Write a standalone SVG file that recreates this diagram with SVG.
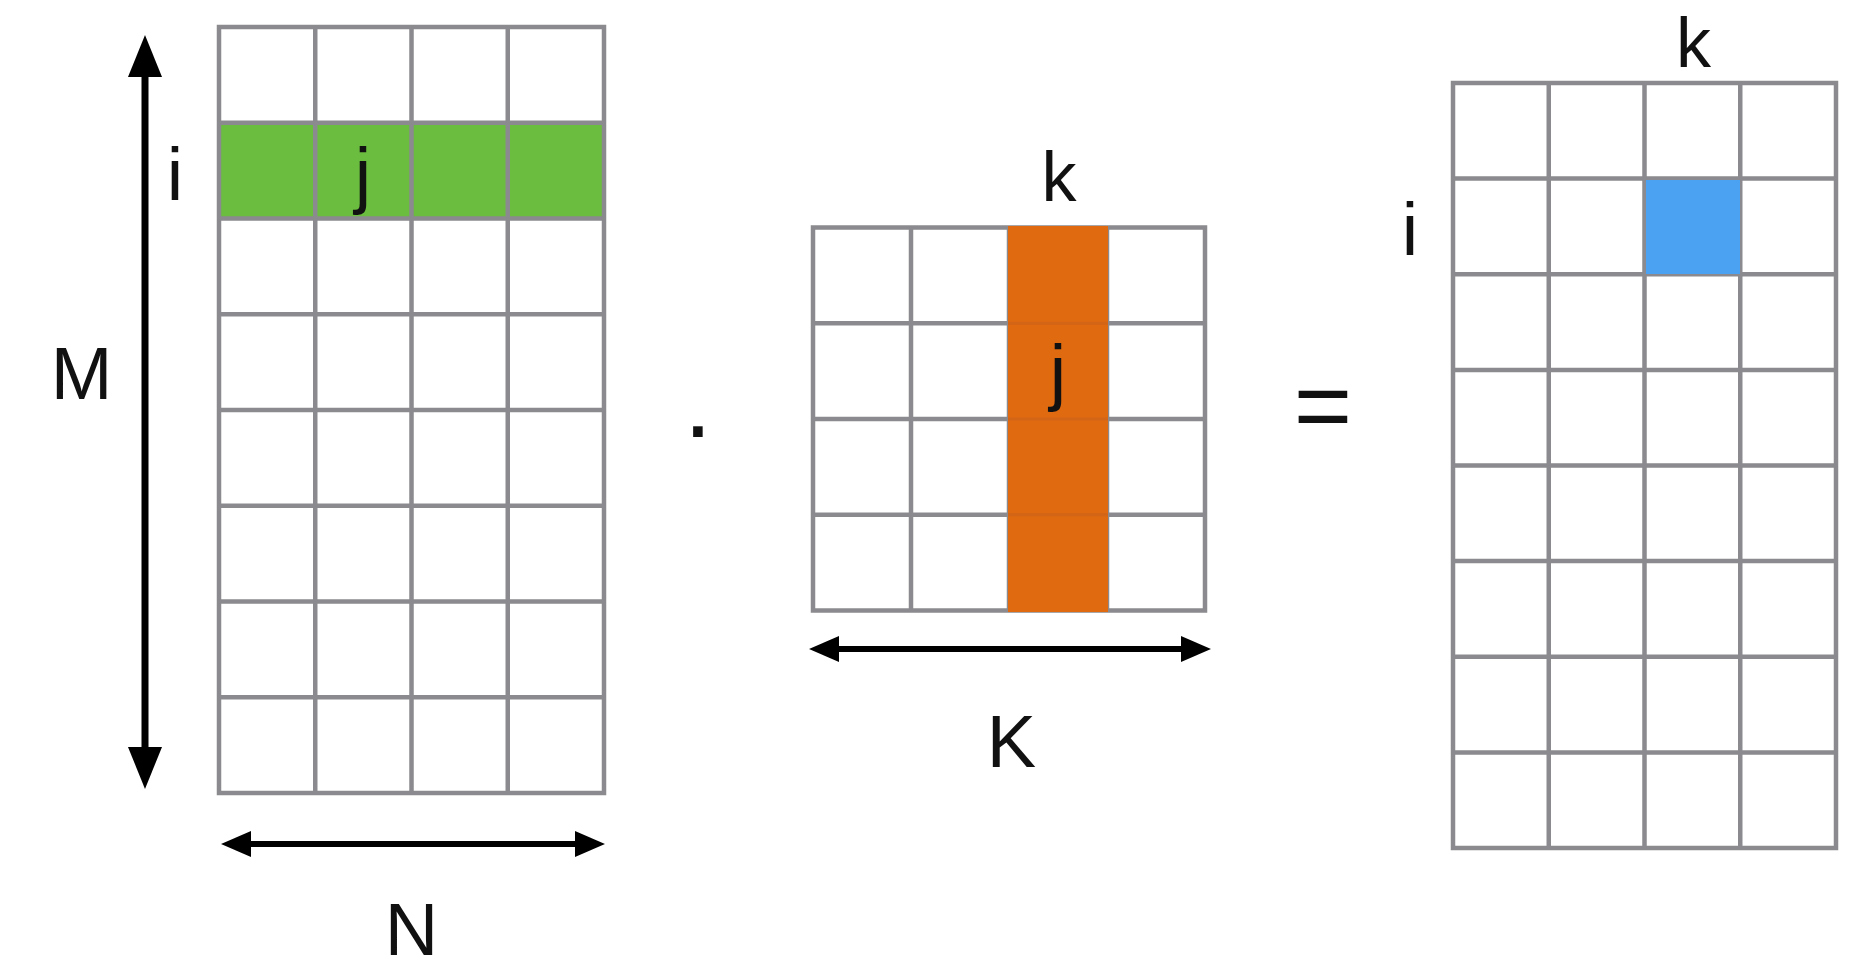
<svg xmlns="http://www.w3.org/2000/svg" width="1859" height="971" viewBox="0 0 1859 971">
<style>
.grid{fill:none;stroke:#8b8b8f;stroke-width:4.5}
.lbl{font-family:"Liberation Sans",Arial,sans-serif;fill:#111;text-anchor:middle}
.big{font-size:74px}
.arr{stroke:#000;fill:none}
</style>
<defs>
<marker id="headV" markerUnits="userSpaceOnUse" markerWidth="42" markerHeight="34" refX="0" refY="17" orient="auto-start-reverse">
<path d="M0,0 L42,17 L0,34 Z" fill="#000"/>
</marker>
<marker id="headH" markerUnits="userSpaceOnUse" markerWidth="30" markerHeight="26" refX="0" refY="13" orient="auto-start-reverse">
<path d="M0,0 L30,13 L0,26 Z" fill="#000"/>
</marker>
</defs>
<rect width="1859" height="971" fill="#fff"/>

<g id="matrixA">
<rect x="219" y="122.75" width="385" height="95.75" fill="#6bbd3f"/>
<rect class="grid" x="219" y="27" width="385" height="766"/>
<path class="grid" d="M315.25,27V793M411.5,27V793M507.75,27V793M219,122.75H604M219,218.5H604M219,314.25H604M219,410H604M219,505.75H604M219,601.5H604M219,697.25H604"/>
<text class="lbl big" x="175" y="200">i</text>
<text class="lbl big" x="363" y="200">j</text>
<text class="lbl big" x="81.5" y="399">M</text>
<text class="lbl big" x="411.5" y="955">N</text>
</g>

<g id="matrixB">
<rect class="grid" x="813" y="227.5" width="392" height="383"/>
<path class="grid" d="M911,227.5V610.5M1009,227.5V610.5M1107,227.5V610.5M813,323.25H1205M813,419H1205M813,514.75H1205"/>
<rect x="1008" y="226" width="100" height="386" fill="#e06a10"/>
<path d="M1008,323.25H1108M1008,419H1108M1008,514.75H1108" stroke="#c9621a" stroke-width="3" opacity="0.6"/>
<text class="lbl" font-size="70" x="1059" y="200.7">k</text>
<text class="lbl big" x="1058" y="397">j</text>
<text class="lbl big" x="1011.5" y="766.7">K</text>
</g>

<g id="matrixC">
<rect class="grid" x="1453" y="83" width="383" height="765"/>
<path class="grid" d="M1548.75,83V848M1644.5,83V848M1740.25,83V848M1453,178.6H1836M1453,274.25H1836M1453,369.9H1836M1453,465.5H1836M1453,561.1H1836M1453,656.75H1836M1453,752.4H1836"/>
<rect x="1646" y="180" width="94" height="94" fill="#4ba2f2"/>
<text class="lbl" font-size="70" x="1693.5" y="66.7">k</text>
<text class="lbl big" x="1410" y="255">i</text>
</g>

<g id="operators">
<text class="lbl" font-size="100" x="698" y="437">.</text>
<text class="lbl" font-size="100" x="1323" y="440">=</text>
</g>

<g id="connectors">
<line class="arr" x1="145" y1="77" x2="145" y2="747" stroke-width="7" marker-start="url(#headV)" marker-end="url(#headV)"/>
<line class="arr" x1="251" y1="844" x2="575" y2="844" stroke-width="6" marker-start="url(#headH)" marker-end="url(#headH)"/>
<line class="arr" x1="839" y1="649" x2="1181" y2="649" stroke-width="6" marker-start="url(#headH)" marker-end="url(#headH)"/>
</g>
</svg>
